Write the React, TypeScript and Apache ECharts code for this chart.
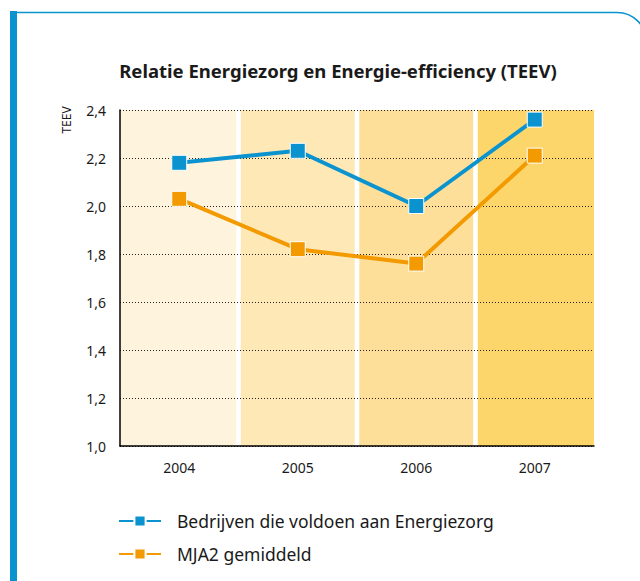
import React, { useEffect, useRef } from "react";
import * as echarts from "echarts";

const years = ["2004", "2005", "2006", "2007"];
const energiezorg = [2.18, 2.23, 2.0, 2.36];
const mja2 = [2.03, 1.82, 1.76, 2.21];
const bandTop = [2.4, 2.4, 2.4, 2.4];
const bandColors = ["#FEF4DE", "#FDE8B6", "#FDDF99", "#FDD66B"];
const yTicks = { min: 1.0, max: 2.4, interval: 0.2 };

const BLUE = "#0A93CF";
const ORANGE = "#F29A00";
const FONT = "'Noto Sans', 'Open Sans', sans-serif";

export default function App() {
  const ref = useRef<HTMLDivElement>(null);
  useEffect(() => {
    if (!ref.current) return;
    const chart = echarts.init(ref.current, null, { renderer: "svg" });
    const gap = 2.3;
    chart.setOption({
      animation: false,
      backgroundColor: "#ffffff",
      textStyle: { fontFamily: FONT },
      grid: { left: 120, right: 46, top: 110, bottom: 135 },
      graphic: [
        { type: "rect", shape: { x: 10, y: 11, width: 7, height: 575 }, style: { fill: BLUE } },
        { type: "line", shape: { x1: 17, y1: 12.5, x2: 617, y2: 12.5 }, style: { stroke: BLUE, lineWidth: 1.5 } },
        {
          type: "arc",
          shape: { cx: 617, cy: 42, r: 29.5, startAngle: -Math.PI / 2, endAngle: 0, clockwise: true },
          style: { stroke: BLUE, lineWidth: 1.5, fill: "none" },
        },
        {
          type: "text",
          x: 338,
          y: 70,
          style: {
            text: "Relatie Energiezorg en Energie-efficiency (TEEV)",
            font: `bold 18.5px ${FONT}`,
            fill: "#1a1a1a",
            textAlign: "center",
            textVerticalAlign: "middle",
          },
        },
        {
          type: "text",
          x: 66,
          y: 120,
          rotation: Math.PI / 2,
          style: {
            text: "TEEV",
            font: `12px ${FONT}`,
            fill: "#1a1a1a",
            textAlign: "center",
            textVerticalAlign: "middle",
          },
        },
      ],
      legend: {
        orient: "vertical",
        left: 113,
        top: 507,
        itemWidth: 42,
        itemHeight: 14,
        itemGap: 15,
        data: ["Bedrijven die voldoen aan Energiezorg", "MJA2 gemiddeld"],
        textStyle: { fontSize: 17.5, color: "#1a1a1a", fontFamily: FONT, padding: [0, 0, 0, 11] },
      },
      xAxis: {
        type: "category",
        data: years,
        boundaryGap: true,
        axisLine: { show: true, lineStyle: { color: "#000", width: 1.5 } },
        axisTick: { show: false },
        axisLabel: { fontSize: 14, color: "#1a1a1a", margin: 14 },
        splitLine: { show: false },
      },
      yAxis: {
        type: "value",
        min: yTicks.min,
        max: yTicks.max,
        interval: yTicks.interval,
        axisLine: { show: true, lineStyle: { color: "#000", width: 1.5 } },
        axisTick: { show: false },
        axisLabel: {
          fontSize: 14,
          color: "#1a1a1a",
          margin: 14,
          formatter: (v: number) => v.toFixed(1).replace(".", ","),
        },
        splitLine: { show: true, lineStyle: { color: "#222", width: 1, type: [1, 2] } },
      },
      series: [
        {
          type: "custom",
          z: -1,
          silent: true,
          data: bandTop.map((v, i) => [i, v]),
          renderItem: (params: any, api: any) => {
            const i = api.value(0);
            const top = api.coord([i, api.value(1)]);
            const bottom = api.coord([i, yTicks.min]);
            const w = api.size([1, 0])[0];
            let x0 = top[0] - w / 2;
            let x1 = top[0] + w / 2;
            if (i > 0) x0 += gap;
            if (i < years.length - 1) x1 -= gap;
            return {
              type: "rect",
              shape: { x: x0, y: top[1], width: x1 - x0, height: bottom[1] - top[1] },
              style: { fill: bandColors[i] },
            };
          },
        },
        {
          name: "Bedrijven die voldoen aan Energiezorg",
          type: "line",
          data: energiezorg,
          symbol: "rect",
          symbolSize: 15,
          z: 4,
          lineStyle: { color: BLUE, width: 4 },
          itemStyle: { color: BLUE, borderColor: "#fff", borderWidth: 1 },
        },
        {
          name: "MJA2 gemiddeld",
          type: "line",
          data: mja2,
          symbol: "rect",
          symbolSize: 15,
          z: 3,
          lineStyle: { color: ORANGE, width: 4 },
          itemStyle: { color: ORANGE, borderColor: "#fff", borderWidth: 1 },
        },
      ],
    });
    return () => chart.dispose();
  }, []);
  return (
    <div
      ref={ref}
      style={{ position: "fixed", left: 0, top: 0, width: 640, height: 581 }}
    />
  );
}
